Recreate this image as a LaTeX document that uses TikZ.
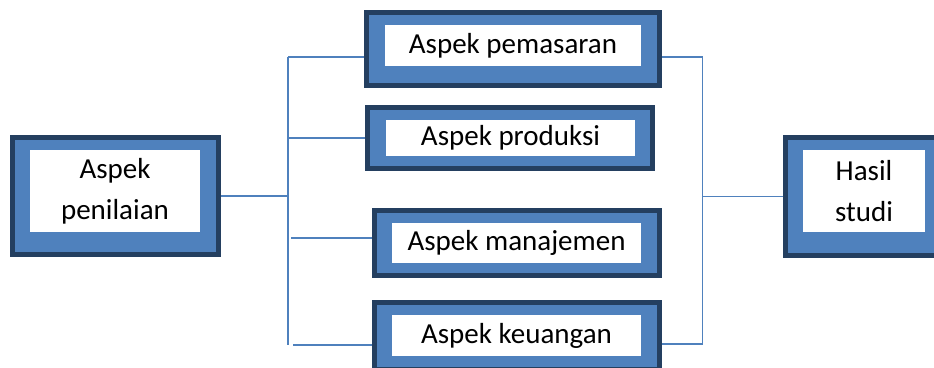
\documentclass[tikz,border=0pt]{standalone}
\usepackage{fontspec}
\setmainfont{Carlito}
\usetikzlibrary{calc}
\definecolor{biru}{HTML}{4F81BD}
\definecolor{birutua}{HTML}{243F60}

\begin{document}
\begin{tikzpicture}[x=1pt,y=-1pt,
		kotak/.style={draw=birutua,line width=5pt,fill=biru,inner sep=0pt},
		isi/.style={fill=white,inner sep=0pt,align=center,font=\fontsize{29}{41}\selectfont},
		garis/.style={draw=biru,line width=1.5pt}]
		\useasboundingbox (0,0) rectangle (934,367);
		% kotak luar
		\node[kotak,minimum width=206pt,minimum height=117pt] (penilaian) at (115.5,196) {};
		\node[kotak,minimum width=293pt,minimum height=73pt] (pemasaran) at (513,49) {};
		\node[kotak,minimum width=285pt,minimum height=61pt] (produksi) at (510,138) {};
		\node[kotak,minimum width=285pt,minimum height=65pt] (manajemen) at (517,243) {};
		\node[kotak,minimum width=285pt,minimum height=67pt] (keuangan) at (517,336) {};
		\node[kotak,anchor=west,minimum width=200pt,minimum height=118pt] (hasil) at (783,196.5) {};
		% isi putih
		\node[isi,minimum width=170pt,minimum height=82pt] (penilaian-t) at (115,191) {Aspek\\penilaian};
		\node[isi,minimum width=256pt,minimum height=41pt] (pemasaran-t) at (513,45.5) {Aspek pemasaran};
		\node[isi,minimum width=249pt,minimum height=36pt] (produksi-t) at (510.5,138) {Aspek produksi};
		\node[isi,minimum width=249pt,minimum height=40pt] (manajemen-t) at (516.5,243) {Aspek manajemen};
		\node[isi,minimum width=249pt,minimum height=41pt] (keuangan-t) at (516.5,335.5) {Aspek keuangan};
		\node[isi,minimum width=122pt,minimum height=82pt] (hasil-t) at (864,191) {Hasil\\studi};
		% garis kiri
		\coordinate (ka) at (288,57);
		\coordinate (kb) at (288,345);
		\coordinate (k3) at (291,238);
		\coordinate (k4) at (293,345);
		\draw[garis] (penilaian.east) -- (penilaian.east -| ka);
		\draw[garis] (ka) -- (kb);
		\draw[garis] (ka) -- (ka -| pemasaran.west);
		\draw[garis] (produksi.west) -- (produksi.west -| ka);
		\draw[garis] (k3) -- (k3 -| manajemen.west);
		\draw[garis] (k4) -- (k4 -| keuangan.west);
		% garis kanan
		\coordinate (na) at (702.5,57);
		\coordinate (nb) at (702.5,344);
		\draw[garis] (na -| pemasaran.east) -- (na) -- (nb) -- (nb -| keuangan.east);
		\draw[garis] (hasil.west) -- (hasil.west -| na);
	\end{tikzpicture}
\end{document}
